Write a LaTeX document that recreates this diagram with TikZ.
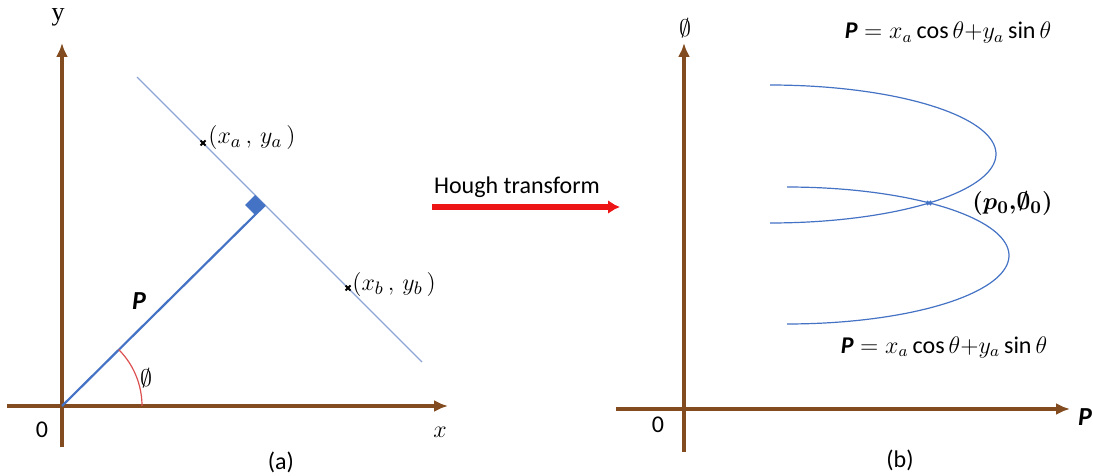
\documentclass[tikz,border=0pt]{standalone}
\usepackage{amsmath}
\usepackage{fontspec}
\setmainfont{Carlito}
\newfontfamily\serifcap{Liberation Serif}
\usetikzlibrary{arrows.meta}
\definecolor{axisbrown}{RGB}{130,76,32}
\definecolor{lineblue}{RGB}{68,114,196}
\definecolor{thinblue}{RGB}{140,165,215}
\definecolor{arcred}{RGB}{220,80,80}
\definecolor{houghred}{RGB}{236,20,20}
\newcommand{\rhoP}{\text{\bfseries\itshape P}}
\newcommand{\xmark}[1]{\draw[line width=1pt] (#1) +(-2.5,-2.5) -- +(2.5,2.5) (#1) +(-2.5,2.5) -- +(2.5,-2.5);}
\tikzset{
  axis/.style={axisbrown, line width=1.6pt, -{Latex[length=7pt,width=6pt]}},
  lbl/.style={font=\fontsize{12}{14}\selectfont},
  mlbl/.style={font=\fontsize{13}{15}\selectfont},
  curve/.style={lineblue, line width=0.6pt}
}
\begin{document}
\begin{tikzpicture}[x=0.5pt, y=-0.5pt, >=latex]
    \useasboundingbox (0,0) rectangle (1093,476);

    % 1. Hệ trục (a)
    \coordinate (O) at (62,406);
    \draw[axis] (7,406) -- (448,406);
    \draw[axis] (62,447) -- (62,43);
    \node[mlbl] (ylbl) at (58,17) {\serifcap y};
    \node[mlbl] (xlbl) at (440,432) {$x$};
    \node[lbl] (zeroa) at (42,430) {0};
    \node[lbl] (capa) at (281,462) {(a)};

    % 2. Đường thẳng và đoạn P
    \coordinate (F) at (265,205);
    \coordinate (L1) at (137,77);
    \coordinate (L2) at (422,362);
    \draw[thinblue, line width=0.6pt] (L1) -- (L2);
    \draw[lineblue, line width=1.1pt] (O) -- (F);
    \fill[lineblue] (F) -- ++(-9.9,-9.9) -- ++(-9.9,9.9) -- ++(9.9,9.9) -- cycle;
    \draw[arcred, line width=0.6pt, domain=0:45, samples=40] plot ({62+80*cos(\x)}, {406-80*sin(\x)});
    \node[mlbl] (plbl) at (139,301) {$\rhoP$};
    \node[mlbl] (phia) at (146,378) {$\emptyset$};

    % 3. Hai điểm A, B
    \coordinate (A) at (203,143);
    \coordinate (B) at (348,288);
    \xmark{A}
    \xmark{B}
    \node[mlbl, anchor=west, inner sep=0pt] (Alab) at (208,138) {$(x_a\,,\,y_a\,)$};
    \node[mlbl, anchor=west, inner sep=0pt] (Blab) at (352,284) {$(x_b\,,\,y_b\,)$};

    % 4. Mũi tên Hough
    \coordinate (H1) at (432,207);
    \coordinate (H2) at (620,207);
    \draw[houghred, line width=2.6pt, -{Latex[length=6pt,width=7pt]}] (H1) -- (H2);
    \node[lbl] (hough) at (517,187) {Hough transform};

    % 5. Hệ trục (b)
    \draw[axis] (616,409) -- (1070,409);
    \draw[axis] (684,452) -- (684,43);
    \node[mlbl] (phib) at (685,28) {$\emptyset$};
    \node[mlbl] (rholbl) at (1085,417) {$\rhoP$};
    \node[lbl] (zerob) at (658,425) {0};
    \node[lbl] (capb) at (900,460) {(b)};

    % 6. Hai đường cong
    \draw[curve, domain=-90:90, samples=80] plot ({770+226*cos(\x)}, {154+69*sin(\x)});
    \draw[curve, domain=-90:90, samples=80] plot ({787+222*cos(\x)}, {255.5+68.5*sin(\x)});
    \coordinate (P0) at (929,203);
    \draw[lineblue, line width=0.8pt] (P0) +(-2,-2) -- +(2,2) (P0) +(-2,2) -- +(2,-2);
    \node[mlbl, anchor=west, inner sep=0pt] (p0lbl) at (972,204) {$\boldsymbol{(p_0{,}\emptyset_0)}$};

    % 7. Phương trình
    \node[lbl] (eqtop) at (948,33) {$\rhoP = x_a\cos\theta{+}y_a\sin\theta$};
    \node[lbl] (eqbot) at (944,347) {$\rhoP = x_a\cos\theta{+}y_a\sin\theta$};
\end{tikzpicture}
\end{document}
